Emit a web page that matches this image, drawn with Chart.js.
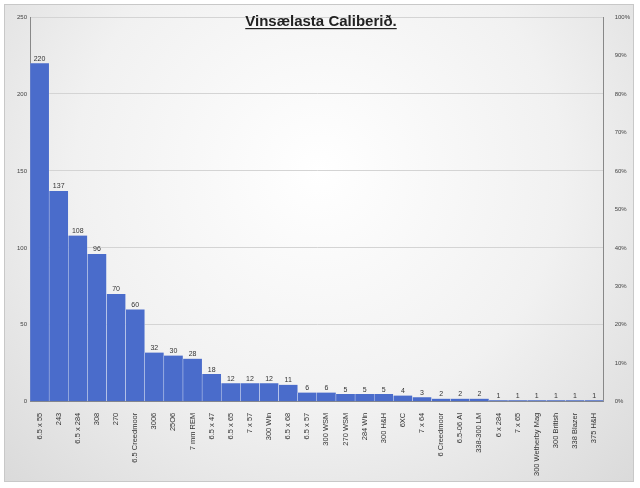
<!DOCTYPE html>
<html>
<head>
<meta charset="utf-8">
<script src="https://cdn.jsdelivr.net/npm/chart.js@4/dist/chart.umd.min.js"></script>
<style>
  html, body { margin: 0; padding: 0; background: #fff; }
  #card {
    position: absolute; left: 4px; top: 4px; width: 630px; height: 478px;
    border: 1px solid #c8c8c8; box-sizing: border-box;
    background: radial-gradient(ellipse at 50% 35%, #ffffff 0%, #f1f1f1 55%, #dadada 100%);
  }
</style>
</head>
<body>
<div id="card"><canvas id="chart" width="628" height="476"></canvas></div>
<script>
// ===== Data =====
var calibers = [
  "6.5 x 55", "243", "6.5 x 284", "308", "270", "6.5 Creedmoor", "3006", "25O6",
  "7 mm REM", "6.5 x 47", "6.5 x 65", "7 x 57", "300 Win", "6.5 x 68", "6.5 x 57",
  "300 WSM", "270 WSM", "284 Win", "300 H&H", "6XC", "7 x 64", "6 Creedmoor",
  "6.5-06 AI", "338-300 LM", "6 x 284", "7 x 65", "300 Wetherby Mag", "300 British",
  "338 Blazer", "375 H&H"
];
var counts = [220, 137, 108, 96, 70, 60, 32, 30, 28, 18, 12, 12, 12, 11, 6, 6, 5, 5, 5, 4, 3, 2, 2, 2, 1, 1, 1, 1, 1, 1];
var titleText = "Vinsælasta Caliberið.";

// value labels above each bar
var valueLabels = {
  id: "valueLabels",
  afterDatasetsDraw: function(chart) {
    var ctx = chart.ctx;
    var meta = chart.getDatasetMeta(0);
    ctx.save();
    ctx.font = "7px 'Liberation Sans', sans-serif";
    ctx.fillStyle = "#333";
    ctx.textAlign = "center";
    ctx.textBaseline = "bottom";
    meta.data.forEach(function(bar, i) {
      ctx.fillText(String(counts[i]), bar.x, bar.y - 1);
    });
    ctx.restore();
  }
};

// underlined title drawn inside the plot
var underlinedTitle = {
  id: "underlinedTitle",
  afterDraw: function(chart) {
    var ctx = chart.ctx;
    ctx.save();
    ctx.font = "bold 15px 'Liberation Sans', sans-serif";
    ctx.fillStyle = "#222";
    ctx.textAlign = "center";
    ctx.textBaseline = "alphabetic";
    var x = 316, y = 21;
    ctx.fillText(titleText, x, y);
    var w = ctx.measureText(titleText).width;
    ctx.fillRect(x - w / 2, y + 2, w, 1.2);
    ctx.restore();
  }
};

new Chart(document.getElementById("chart"), {
  type: "bar",
  data: {
    labels: calibers,
    datasets: [{
      data: counts,
      backgroundColor: "#4a6ccb",
      borderColor: "rgba(255,255,255,0.6)",
      borderWidth: { left: 0.5, right: 0.5, top: 0, bottom: 0 },
      barPercentage: 1,
      categoryPercentage: 1
    }]
  },
  options: {
    responsive: false,
    animation: false,
    layout: { padding: { top: 12, right: 0, bottom: 2, left: 9 } },
    plugins: { legend: { display: false }, tooltip: { enabled: false } },
    scales: {
      x: {
        grid: { display: false },
        border: { color: "#888" },
        ticks: {
          color: "#333", autoSkip: false, maxRotation: 90, minRotation: 90,
          font: { size: 7.5, family: "'Liberation Sans', sans-serif" }
        }
      },
      y: {
        min: 0, max: 250,
        ticks: { stepSize: 50, color: "#444", font: { size: 6, family: "'Liberation Sans', sans-serif" } },
        grid: { color: "#d4d4d4", drawTicks: false },
        border: { color: "#888" }
      },
      y2: {
        position: "right", min: 0, max: 100,
        ticks: { stepSize: 10, color: "#444", font: { size: 6, family: "'Liberation Sans', sans-serif" },
          callback: function(v) { return v + "%"; } },
        grid: { display: false },
        border: { color: "#888" }
      }
    }
  },
  plugins: [valueLabels, underlinedTitle]
});
</script>
</body>
</html>
